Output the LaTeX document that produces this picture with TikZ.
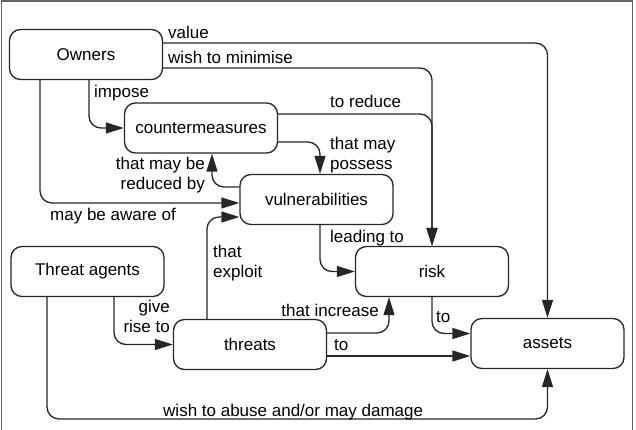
\documentclass[tikz,border=0pt]{standalone}
\usepackage{fontspec}
\setmainfont{Liberation Sans}
\usetikzlibrary{arrows.meta}

\begin{document}
\begin{tikzpicture}[x=1pt,y=-1pt,
  font=\fontsize{17}{20}\selectfont,
  box/.style={draw=black!85,line width=1.3pt,rounded corners=11pt,minimum width=153pt,minimum height=50pt,inner sep=0pt},
  link/.style={draw=black!85,line width=1.3pt,rounded corners=12pt,-{Triangle[length=18pt,width=11pt]}},
  lbl/.style={inner sep=0pt}]

\useasboundingbox (0,0) rectangle (636,430);
\draw[black!60,line width=1.5pt] (1.5,432) -- (1.5,0.8) -- (632.5,0.8) -- (632.5,432);

\node[box] (owners) at (86,54.5) {Owners};
\node[box] (counter) at (201,128) {countermeasures};
\node[box] (vuln) at (316.5,199.5) {vulnerabilities};
\node[box] (agents) at (87.5,271.5) {Threat agents};
\node[box] (risk) at (432,271.5) {risk};
\node[box] (threats) at (250,344.5) {threats};
\node[box] (assets) at (547.5,343.5) {assets};
\coordinate (floor) at (0,419);

\draw[link] ([yshift=11.5pt]owners.east) -| (assets.north);
\draw[link] ([yshift=-13.5pt]owners.east) -| (risk.north);
\draw[link] ([xshift=3pt]owners.south) |- (counter.west);
\draw[link] ([xshift=-46pt]owners.south) |- ([yshift=-3.5pt]vuln.west);
\draw[link] ([yshift=14pt]counter.east) -| (risk.north);
\draw[link] ([yshift=-14pt]counter.east) -| ([xshift=3.5pt]vuln.north);
\draw[link] ([yshift=12.5pt]vuln.west) -| ([xshift=11pt]counter.south);
\draw[link] ([xshift=3.5pt]vuln.south) |- (risk.west);
\draw[link] ([xshift=-43pt]threats.north) |- ([yshift=-17.5pt]vuln.west);
\draw[link] ([yshift=11.5pt]threats.east) -| ([xshift=-43pt]risk.south);
\draw[link] ([yshift=-11.5pt]threats.east) -- ([yshift=-12.5pt]assets.west);
\draw[link] (risk.south) |- ([yshift=10pt]assets.west);
\draw[link] ([xshift=26.5pt]agents.south) |- (threats.west);
\draw[link] ([xshift=-40.5pt]agents.south) |- (floor -| assets.south) -- (assets.south);

\node[lbl,anchor=base west] at (168,38.5) {value};
\node[lbl,anchor=base west] at (168,63.5) {wish to minimise};
\node[lbl,anchor=base west] at (94,97.5) {impose};
\node[lbl,anchor=north east,align=right] at (205,156.5) {that may be\\reduced by};
\node[lbl,anchor=base west] at (50,220) {may be aware of};
\node[lbl,anchor=base west] at (330,108) {to reduce};
\node[lbl,anchor=north west,align=left] at (330,137) {that may\\possess};
\node[lbl,anchor=base west] at (330,242) {leading to};
\node[lbl,anchor=north west,align=left] at (213,245) {that\\exploit};
\node[lbl,anchor=north east,align=right] at (170,300) {give\\rise to};
\node[lbl,anchor=base east] at (379,316) {that increase};
\node[lbl,anchor=base west] at (334,350) {to};
\node[lbl,anchor=base west] at (436,322) {to};
\node[lbl,anchor=base west] at (163,416) {wish to abuse and/or may damage};

\end{tikzpicture}
\end{document}
